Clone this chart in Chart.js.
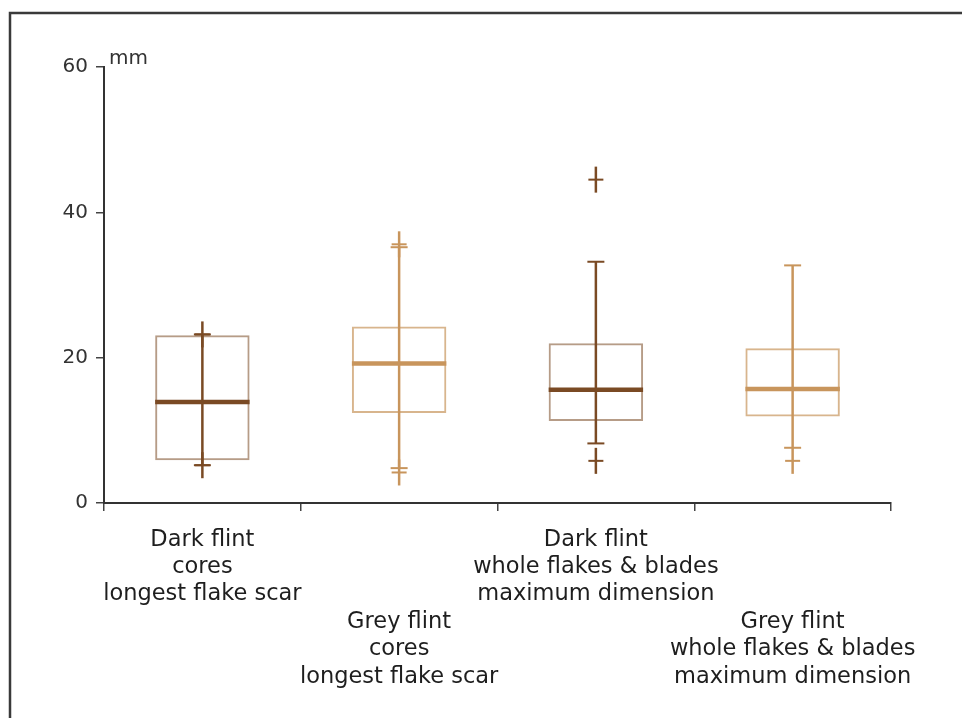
<!DOCTYPE html>
<html>
<head>
<meta charset="utf-8">
<script src="https://cdn.jsdelivr.net/npm/chart.js@4/dist/chart.umd.min.js"></script>
<style>
  html, body { margin: 0; padding: 0; background: #fff; }
  #wrap { width: 962px; height: 718px; position: relative; }
</style>
</head>
<body>
<div id="wrap"><canvas id="c" width="962" height="718"></canvas></div>
<script>
// Flint size distributions (mm)
const categories = [
  ['Dark flint', 'cores', 'longest flake scar'],
  ['Grey flint', 'cores', 'longest flake scar'],
  ['Dark flint', 'whole flakes & blades', 'maximum dimension'],
  ['Grey flint', 'whole flakes & blades', 'maximum dimension']
];
const q1 =          [5.9, 12.4, 11.3, 11.9];
const q3 =          [23.1, 24.3, 22.0, 21.3];
const medians =     [13.9, 19.2, 15.6, 15.7];
const whiskerLow =  [5.2, 4.8, 8.2, 7.6];
const whiskerHigh = [23.2, 35.2, 33.2, 32.7];
const outliers =    [[5.2, 23.2], [4.2, 35.6], [5.8, 44.5], [5.8]];
const yTicks = [0, 20, 40, 60];

const DARK = '#7a4a24';
const GREY = '#c8955c';
const lineColors = [DARK, GREY, DARK, GREY];
const boxColors = ['rgba(122,74,36,0.55)', 'rgba(200,149,92,0.7)', 'rgba(122,74,36,0.55)', 'rgba(200,149,92,0.7)'];
const FONT = 'DejaVu Sans';

// Whiskers, caps, outlier crosses, medians and the frame
const boxPlotPlugin = {
  id: 'boxPlot',
  beforeDraw(chart) {
    const ctx = chart.ctx;
    ctx.save();
    ctx.strokeStyle = '#3a3a3a';
    ctx.lineWidth = 2.5;
    ctx.beginPath();
    ctx.moveTo(10, 718);
    ctx.lineTo(10, 13);
    ctx.lineTo(962, 13);
    ctx.stroke();
    ctx.restore();
  },
  afterDatasetsDraw(chart) {
    const ctx = chart.ctx;
    const x = chart.scales.x, y = chart.scales.y;
    const meta = chart.getDatasetMeta(0);
    ctx.save();
    categories.forEach((_, i) => {
      const bar = meta.data[i];
      const cx = x.getPixelForValue(i);
      const half = bar.width / 2;
      const col = lineColors[i];
      ctx.strokeStyle = col;
      ctx.lineCap = 'butt';
      // whisker line
      ctx.lineWidth = 2.5;
      ctx.beginPath();
      ctx.moveTo(cx, y.getPixelForValue(whiskerLow[i]));
      ctx.lineTo(cx, y.getPixelForValue(whiskerHigh[i]));
      ctx.stroke();
      // caps
      ctx.lineWidth = 2;
      [whiskerLow[i], whiskerHigh[i]].forEach(v => {
        const py = y.getPixelForValue(v);
        ctx.beginPath();
        ctx.moveTo(cx - 8.5, py);
        ctx.lineTo(cx + 8.5, py);
        ctx.stroke();
      });
      // outliers as crosses
      outliers[i].forEach(v => {
        const py = y.getPixelForValue(v);
        ctx.lineWidth = 2;
        ctx.beginPath();
        ctx.moveTo(cx - 7.5, py);
        ctx.lineTo(cx + 7.5, py);
        ctx.stroke();
        ctx.lineWidth = 2.5;
        ctx.beginPath();
        ctx.moveTo(cx, py - 13);
        ctx.lineTo(cx, py + 13);
        ctx.stroke();
      });
      // median
      ctx.lineWidth = 4.5;
      const pm = y.getPixelForValue(medians[i]);
      ctx.beginPath();
      ctx.moveTo(cx - half, pm);
      ctx.lineTo(cx + half, pm);
      ctx.stroke();
    });
    // unit label
    ctx.fillStyle = '#333';
    ctx.font = '20px ' + FONT;
    ctx.textAlign = 'left';
    ctx.textBaseline = 'alphabetic';
    ctx.fillText('mm', x.left + 5, y.getPixelForValue(60) - 3);
    ctx.restore();
  }
};

new Chart(document.getElementById('c'), {
  type: 'bar',
  data: {
    labels: categories,
    datasets: [{
      data: q1.map((v, i) => [v, q3[i]]),
      backgroundColor: 'rgba(0,0,0,0)',
      borderColor: boxColors,
      borderWidth: 2,
      borderSkipped: false,
      barPercentage: 0.96,
      categoryPercentage: 0.5
    }]
  },
  options: {
    responsive: false,
    animation: false,
    devicePixelRatio: 1,
    layout: { padding: { top: 67, right: 71, left: 0, bottom: 0 } },
    plugins: { legend: { display: false }, tooltip: { enabled: false } },
    scales: {
      x: {
        grid: { offset: true, drawOnChartArea: false, drawTicks: true, tickLength: 8, color: '#444', lineWidth: 1.5 },
        border: { color: '#333', width: 2 },
        ticks: {
          color: '#1e1e1e',
          font: { family: FONT, size: 22.5, lineHeight: 1.22 },
          padding: 15,
          maxRotation: 0,
          autoSkip: false,
          callback: (v, i) => i % 2 ? ['', '', ''].concat(categories[i]) : categories[i]
        },
        afterFit: s => { s.height = 215; }
      },
      y: {
        min: 0, max: 60,
        afterBuildTicks: s => { s.ticks = yTicks.map(v => ({ value: v })); },
        grid: { drawOnChartArea: false, drawTicks: true, tickLength: 8, color: '#444', lineWidth: 1.5 },
        border: { color: '#333', width: 2 },
        ticks: { color: '#333', font: { family: FONT, size: 20 }, padding: 8 },
        afterFit: s => { s.width = 104; }
      }
    }
  },
  plugins: [boxPlotPlugin]
});
</script>
</body>
</html>
